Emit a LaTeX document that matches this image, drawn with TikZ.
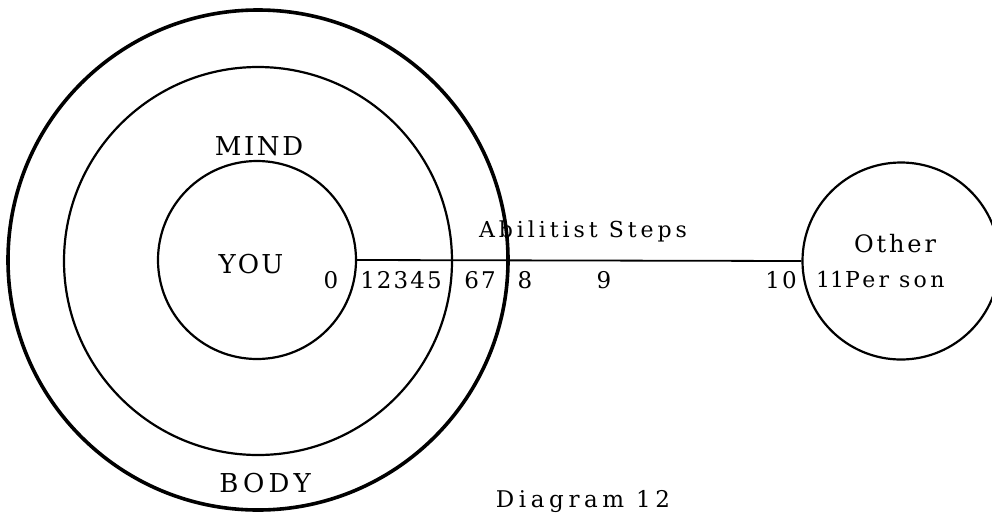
\documentclass[tikz,border=0pt]{standalone}
\usepackage{fontspec}
\setmainfont{DejaVu Serif}
\newcommand{\sz}[2]{\fontsize{#1}{#1}\selectfont\addfontfeature{LetterSpace=#2}}
\begin{document}
\begin{tikzpicture}[x=1pt,y=-1pt,
  ring/.style={draw=black,circle,inner sep=0pt,line width=#1},
  lbl/.style={inner sep=0pt,anchor=base},
  conn/.style={draw=black,line width=1.8pt}]
\useasboundingbox (0,0) rectangle (992,512);
% circles
\node[ring=3.6pt,minimum size=500pt] (body) at (258,260) {};
\node[ring=2.2pt,minimum size=388pt] (mind) at (258,261) {};
\node[ring=2.2pt,minimum size=198pt] (you) at (257,260) {};
\node[ring=2.2pt,minimum size=197pt] (other) at (901,261) {};
% connector
\draw[conn] (you.east) -- (other.west);
% labels
\node[lbl,font=\sz{26}{10}] (tmind) at (259,155) {MIND};
\node[lbl,font=\sz{26}{8}] (tyou) at (251,273) {YOU};
\node[lbl,font=\sz{26}{16}] (tbody) at (265,492) {BODY};
\node[lbl,font=\sz{22}{18}] (tsteps) at (583,237) {Abilitist Steps};
\node[lbl,font=\sz{23}{9}] (n0) at (331,288) {0};
\node[lbl,font=\sz{23}{9}] (n1) at (401,288) {12345};
\node[lbl,font=\sz{23}{9}] (n6) at (480,288) {67};
\node[lbl,font=\sz{23}{9}] (n8) at (525,288) {8};
\node[lbl,font=\sz{23}{9}] (n9) at (604,288) {9};
\node[lbl,font=\sz{23}{9}] (n10) at (781,288) {10};
\node[lbl,font=\sz{22}{0}] (n11) at (830,287) {11};
\node[lbl,font=\sz{22}{15},anchor=base west] (tperson) at (845,287) {Per\hspace{10pt}son};
\node[lbl,font=\sz{24}{12}] (tother) at (895,252) {Other};
\node[lbl,font=\sz{23}{20}] (tdiag) at (583,507) {Diagram 12};
\end{tikzpicture}
\end{document}
